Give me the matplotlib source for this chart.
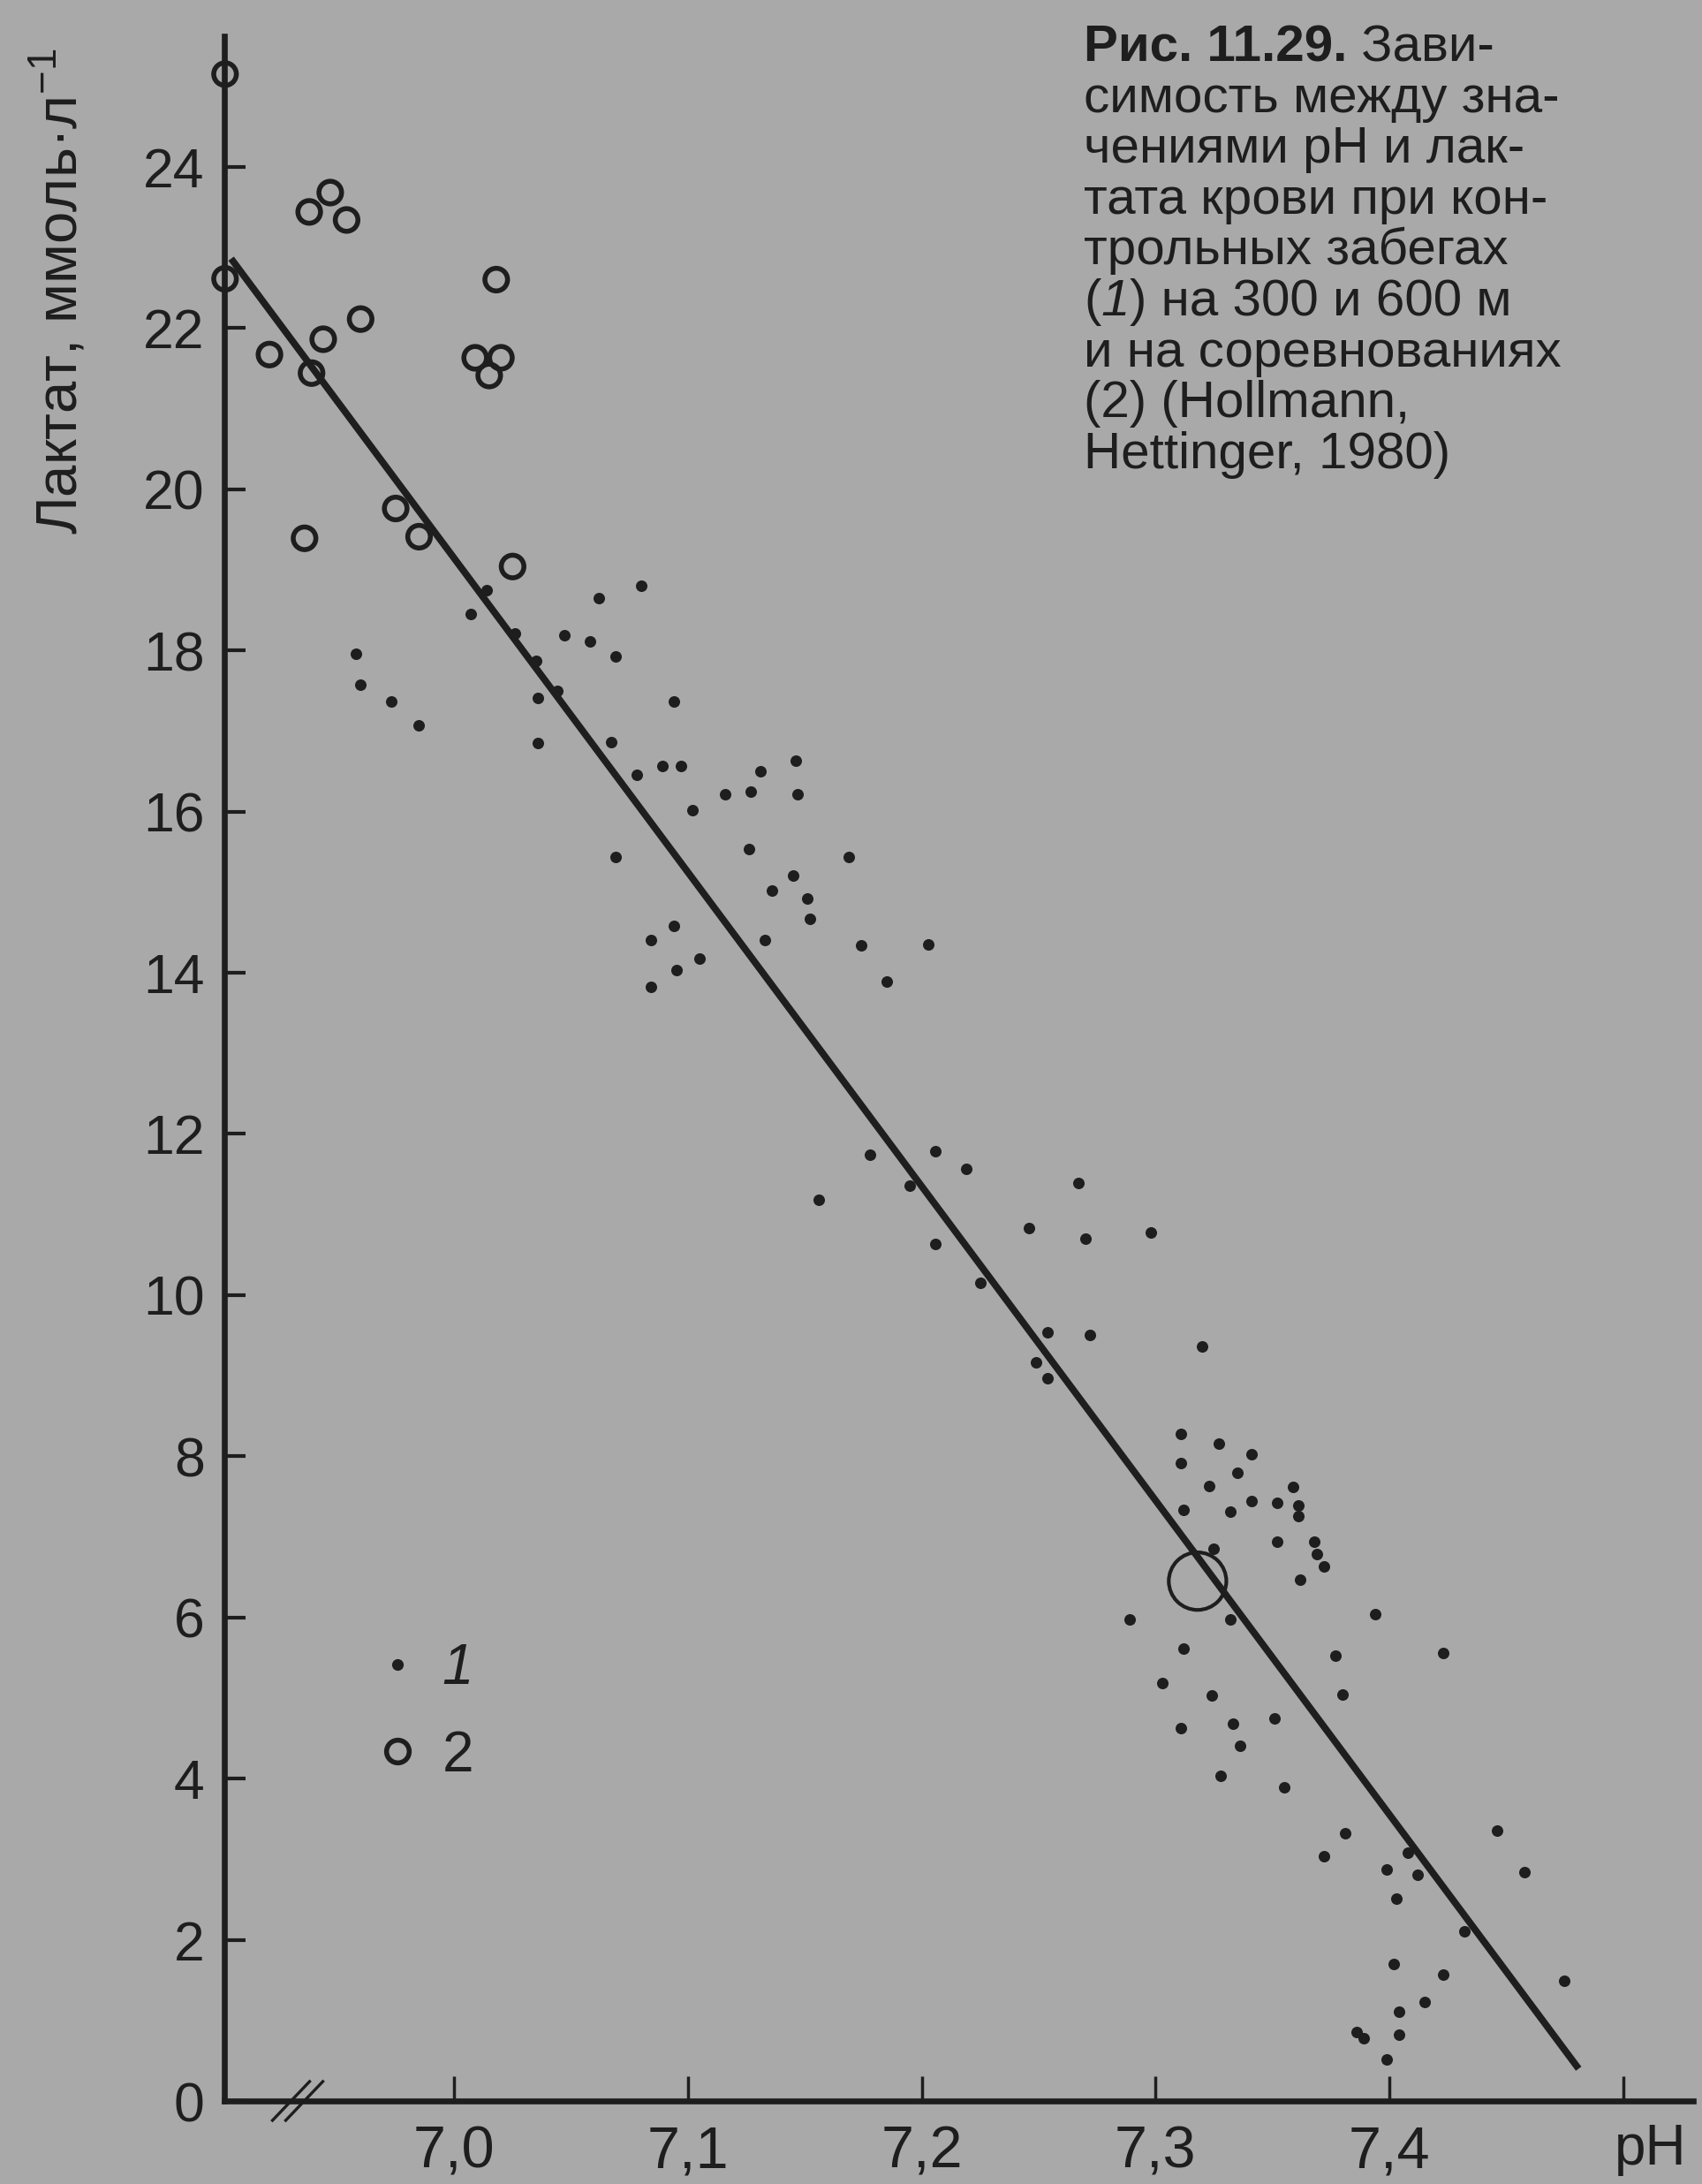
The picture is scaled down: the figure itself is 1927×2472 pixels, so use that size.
import matplotlib
matplotlib.use("Agg")
import matplotlib.pyplot as plt
from matplotlib.lines import Line2D

plt.rcParams['font.family'] = ['Liberation Sans', 'DejaVu Sans']
plt.rcParams['mathtext.fontset'] = 'custom'
plt.rcParams['mathtext.rm'] = 'Liberation Sans'
plt.rcParams['mathtext.it'] = 'Liberation Sans:italic'
plt.rcParams['mathtext.bf'] = 'Liberation Sans:bold'

# ---------------- data ----------------
# series 1: control runs (dots)
ph_runs = [7.007, 7.062, 7.080, 7.014, 7.047, 7.058, 7.069, 7.026, 7.035, 7.044,
           7.036, 6.958, 6.960, 6.973, 6.985, 7.036, 7.067, 7.078, 7.069, 7.094,
           7.089, 7.097, 7.131, 7.146, 7.116, 7.127, 7.147, 7.102, 7.126, 7.169,
           7.145, 7.136, 7.151, 7.152, 7.133, 7.094, 7.084, 7.105, 7.095, 7.084,
           7.174, 7.203, 7.185,
           7.178, 7.206, 7.219, 7.156, 7.195, 7.267, 7.246, 7.270, 7.298, 7.206,
           7.225, 7.254, 7.272, 7.249, 7.254, 7.320, 7.311, 7.327, 7.341, 7.311,
           7.335, 7.323, 7.341, 7.312, 7.332, 7.352, 7.325, 7.352,
           7.359, 7.361, 7.361, 7.368, 7.369, 7.372, 7.362, 7.332, 7.289, 7.394,
           7.312, 7.377, 7.423, 7.303, 7.324, 7.380, 7.311, 7.333, 7.351, 7.336,
           7.328, 7.355, 7.381, 7.372, 7.446, 7.408, 7.399, 7.412, 7.458, 7.403,
           7.432, 7.402, 7.423, 7.475, 7.415, 7.404, 7.386, 7.389, 7.404, 7.399]
lac_runs = [18.45, 18.65, 18.80, 18.75, 18.19, 18.11, 17.92, 18.21, 17.87, 17.50,
            17.41, 17.96, 17.57, 17.37, 17.07, 16.85, 16.86, 16.46, 15.44, 17.36,
            16.56, 16.56, 16.50, 16.63, 16.21, 16.25, 16.21, 16.02, 15.53, 15.44,
            15.20, 15.02, 14.92, 14.67, 14.41, 14.58, 14.40, 14.18, 14.03, 13.82,
            14.34, 14.35, 13.89,
            11.74, 11.78, 11.57, 11.18, 11.36, 11.39, 10.83, 10.70, 10.78, 10.63,
            10.15, 9.54, 9.51, 9.16, 8.97, 9.36, 8.28, 8.16, 8.02, 7.91,
            7.80, 7.63, 7.44, 7.33, 7.31, 7.42, 6.85, 6.94,
            7.62, 7.39, 7.26, 6.94, 6.79, 6.63, 6.47, 5.97, 5.98, 6.04,
            5.61, 5.52, 5.56, 5.18, 5.03, 5.04, 4.63, 4.68, 4.75, 4.41,
            4.03, 3.89, 3.32, 3.04, 3.35, 3.08, 2.87, 2.81, 2.84, 2.51,
            2.10, 1.70, 1.57, 1.49, 1.23, 1.11, 0.86, 0.78, 0.82, 0.51]

# series 2: competitions (open circles)
ph_comp = [6.902, 6.947, 6.938, 6.954, 6.902, 7.018, 6.960, 6.944, 6.921, 6.939,
           7.009, 7.020, 7.015, 6.975, 6.985, 6.936, 7.025]
lac_comp = [25.15, 23.68, 23.44, 23.34, 22.61, 22.60, 22.11, 21.86, 21.67, 21.44,
            21.63, 21.63, 21.41, 19.76, 19.41, 19.39, 19.04]

# regression line end points
line_ph = [6.9046, 7.481]
line_lac = [22.86, 0.40]

# large open marker on the line
big_ph = [7.318]
big_lac = [6.45]

x_ticks = [7.0, 7.1, 7.2, 7.3, 7.4, 7.5]
x_ticklabels = ['7,0', '7,1', '7,2', '7,3', '7,4', '']
y_ticks = [0, 2, 4, 6, 8, 10, 12, 14, 16, 18, 20, 22, 24]
y_ticklabels = [str(v) for v in y_ticks]

ylabel_text = 'Лактат, ммоль·л$^{-1}$'
xlabel_text = 'pH'
legend_labels = ['1', '2']
caption_bold = 'Рис. 11.29.'
caption_lines = [' Зави-',
                 'симость между зна-',
                 'чениями pH и лак-',
                 'тата крови при кон-',
                 'трольных забегах',
                 None,
                 'и на соревнованиях',
                 '(2) (Hollmann,',
                 'Hettinger, 1980)']
caption_line6 = ['(', '1', ') на 300 и 600 м']

# ---------------- style ----------------
BG = '#a9a9a9'
INK = '#1e1e1e'
W, H = 1927, 2472
DPI = 100
AX_L, AX_R, AX_B, AX_T = 254, 1917, 2378, 41   # pixel frame of the axes

fig = plt.figure(figsize=(W / DPI, H / DPI), dpi=DPI, facecolor=BG)
ax = fig.add_axes([AX_L / W, (H - AX_B) / H, (AX_R - AX_L) / W, (AX_B - AX_T) / H])
ax.set_facecolor(BG)
ax.set_xlim(6.9017, 7.530)
ax.set_ylim(0, 25.62)

for s in ['top', 'right']:
    ax.spines[s].set_visible(False)
for s in ['left', 'bottom']:
    ax.spines[s].set_linewidth(4.8)
    ax.spines[s].set_color(INK)

ax.set_xticks(x_ticks)
ax.set_xticklabels(x_ticklabels)
ax.set_yticks(y_ticks)
ax.set_yticklabels(y_ticklabels)
ax.tick_params(axis='y', direction='in', length=17, width=3, pad=16,
               labelsize=45, colors=INK)
ax.tick_params(axis='x', direction='in', length=20, width=2.5, pad=20,
               labelsize=48, colors=INK)

# regression line
ax.plot(line_ph, line_lac, color=INK, lw=5.6, solid_capstyle='butt', zorder=2)

# data
ax.scatter(ph_runs, lac_runs, s=88, c=INK, linewidths=0, zorder=3, clip_on=False)
ax.scatter(ph_comp, lac_comp, s=340, facecolors='none', edgecolors=INK,
           linewidths=4.0, zorder=3, clip_on=False)
ax.scatter(big_ph, big_lac, s=2200, facecolors='none', edgecolors=INK,
           linewidths=3.0, zorder=3)

# axis break marks
pw, ph_ = AX_R - AX_L, AX_B - AX_T
bx = (337 - AX_L) / pw
dx, dy = 21 / pw, 22 / ph_
for off in (-7.5 / pw, 7.5 / pw):
    ax.plot([bx + off - dx, bx + off + dx], [-dy, dy], color=INK, lw=2.4,
            transform=ax.transAxes, clip_on=False, zorder=4)

# axis labels
ax.text((88 - AX_L) / pw, (AX_B - 330) / ph_, ylabel_text, rotation=90,
        rotation_mode='anchor', transform=ax.transAxes,
        ha='center', va='baseline', fontsize=47, color=INK)
ax.text((1828 - AX_L) / pw, (AX_B - 2450) / ph_, xlabel_text, transform=ax.transAxes,
        ha='left', va='baseline', fontsize=46, color=INK)

# legend
handles = [Line2D([], [], ls='none', marker='o', markersize=9.5, color=INK, markeredgewidth=0),
           Line2D([], [], ls='none', marker='o', markersize=18.5, markerfacecolor='none',
                  markeredgecolor=INK, markeredgewidth=4.0)]
leg = ax.legend(handles, legend_labels, loc='center left',
                bbox_to_anchor=(0.085, 0.188), frameon=False, fontsize=46,
                handlelength=0.7, handletextpad=0.45, labelspacing=0.6,
                borderpad=0, labelcolor=INK)
leg.get_texts()[0].set_style('italic')

# caption
cx = 1227 / W
fs_cap = 42
base0 = 69
step = 57.6
t_bold = fig.text(cx, 1 - base0 / H, caption_bold, fontsize=fs_cap,
                  fontweight='bold', color=INK, va='baseline', ha='left')
ax.annotate(caption_lines[0], xy=(1, 0), xycoords=t_bold, fontsize=fs_cap,
            color=INK, va='bottom', ha='left', annotation_clip=False)
for k, line in enumerate(caption_lines):
    if k == 0:
        continue
    y = 1 - (base0 + k * step) / H
    if line is None:
        p1 = fig.text(cx, y, caption_line6[0], fontsize=fs_cap, color=INK,
                      va='baseline', ha='left')
        p2 = ax.annotate(caption_line6[1], xy=(1, 0), xycoords=p1, fontsize=fs_cap,
                         color=INK, va='bottom', ha='left', style='italic',
                         annotation_clip=False)
        ax.annotate(caption_line6[2], xy=(1, 0), xycoords=p2, fontsize=fs_cap,
                    color=INK, va='bottom', ha='left', annotation_clip=False)
    else:
        fig.text(cx, y, line, fontsize=fs_cap, color=INK, va='baseline', ha='left')

fig.savefig('out.png', dpi=DPI, facecolor=BG)
